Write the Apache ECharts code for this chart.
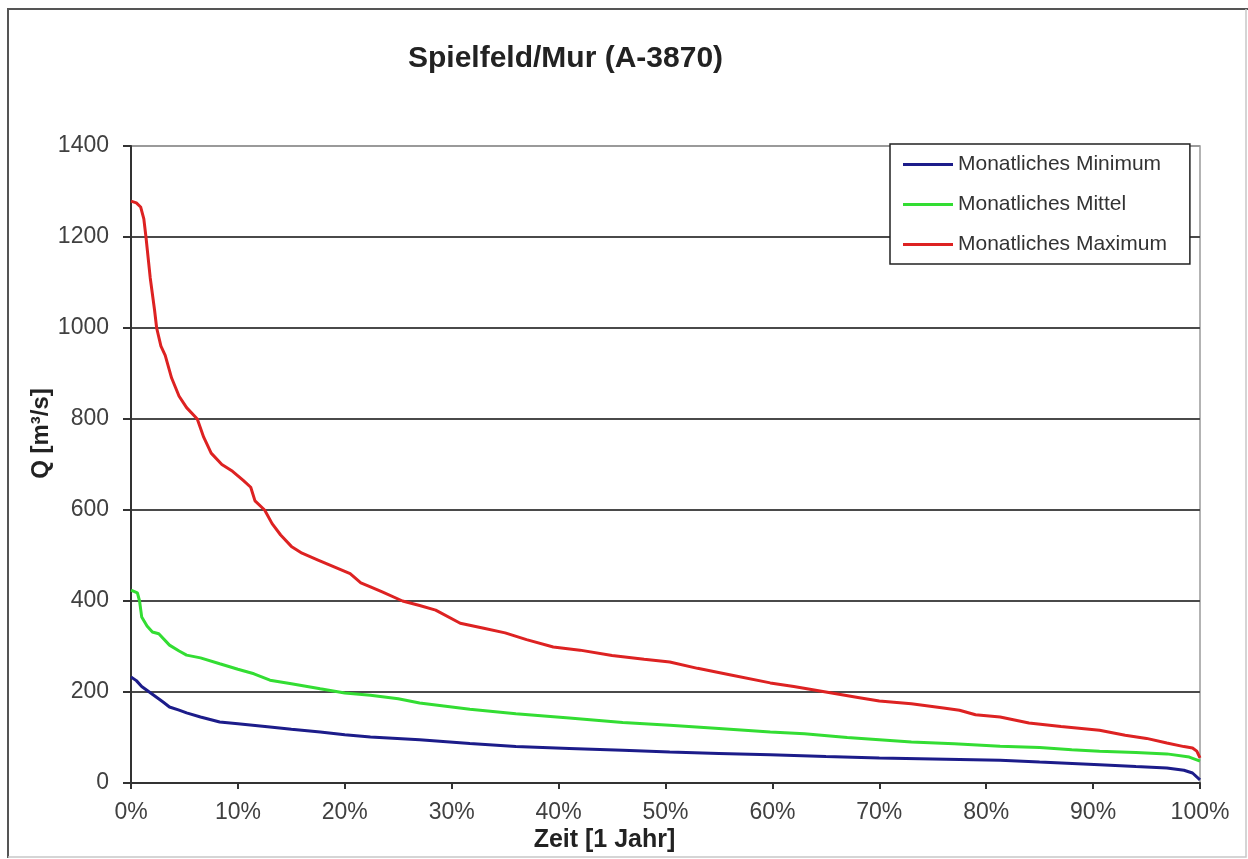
<!DOCTYPE html>
<html>
<head>
<meta charset="utf-8">
<script src="https://cdn.jsdelivr.net/npm/echarts@6/dist/echarts.min.js"></script>
<style>
html,body{margin:0;padding:0;background:#fff;}
#chart{width:1248px;height:859px;}
</style>
</head>
<body>
<div id="chart"></div>
<script>
// ---- data (x = % of year, Q in m³/s) ----
const seriesNames = ['Monatliches Minimum', 'Monatliches Mittel', 'Monatliches Maximum'];
const xTickValues = [0, 10, 20, 30, 40, 50, 60, 70, 80, 90, 100];
const yTickValues = [0, 200, 400, 600, 800, 1000, 1200, 1400];

const minX = [0, 0.5, 1.0, 2.0, 3.0, 3.6, 4.5, 5.2, 6.5, 8.3, 10, 13, 15, 17.7, 20, 22.4, 27, 31.7, 36, 41, 46, 50.4, 55, 59.8, 65, 70, 75, 81.3, 85, 90.6, 94, 96.9, 98.5, 99.3, 100];
const minQ = [233, 225, 212, 195, 178, 167, 160, 154, 145, 134, 130, 123, 118, 112, 106, 101, 95, 87, 80, 76, 72, 68, 65, 62, 58, 55, 53, 50, 46, 40, 36, 33, 28, 22, 7];

const meanX = [0, 0.6, 0.8, 1.0, 1.5, 2.0, 2.6, 3.6, 4.5, 5.2, 6.5, 8.3, 10, 11.5, 13, 15, 17.7, 20, 22.4, 25, 27, 31.7, 36, 41, 46, 50.4, 55, 59.8, 63, 67, 70, 73, 77, 81.3, 85, 88, 90.6, 94, 96.9, 99, 100];
const meanQ = [424, 418, 400, 365, 345, 332, 328, 303, 290, 281, 275, 262, 250, 240, 226, 218, 207, 198, 193, 185, 176, 162, 152, 143, 133, 127, 120, 112, 108, 100, 95, 90, 86, 81, 78, 73, 70, 67, 64, 57, 48];

const maxX = [0, 0.5, 0.9, 1.2, 1.4, 1.8, 2.2, 2.4, 2.8, 3.2, 3.8, 4.5, 5.2, 6.2, 6.8, 7.5, 8.5, 9.5, 10.5, 11.2, 11.6, 12.5, 13.2, 14, 15, 16, 17.5, 19, 20.5, 21.5, 22.4, 23.5, 25.4, 27, 28.5, 30.8, 33, 35, 37, 39.5, 42, 45, 48, 50.4, 53, 56, 59.8, 62, 65, 68, 70, 73, 76, 77.5, 79, 81.3, 84, 87, 90.6, 93, 95, 96.9, 98.5, 99.3, 99.7, 100];
const maxQ = [1279, 1275, 1266, 1240, 1200, 1110, 1040, 1000, 960, 940, 890, 850, 825, 800, 760, 725, 700, 685, 665, 650, 620, 600, 570, 545, 520, 505, 490, 475, 460, 440, 431, 420, 400, 390, 380, 351, 340, 330, 315, 299, 292, 280, 272, 266, 252, 238, 220, 212, 200, 188, 180, 174, 165, 160, 150, 145, 132, 124, 116, 105, 98, 88, 80, 77, 70, 55];

const pairs = (xs, ys) => xs.map((x, i) => [x, ys[i]]);

const FONT = '"Liberation Sans", Arial, sans-serif';
const chart = echarts.init(document.getElementById('chart'), null, {renderer: 'canvas'});

const splitColors = yTickValues.map((v, i) => i === yTickValues.length - 1 ? '#9a9a9a' : '#4a4a4a');

chart.setOption({
  backgroundColor: '#ffffff',
  animation: false,
  textStyle: {fontFamily: FONT},
  title: {
    text: 'Spielfeld/Mur (A-3870)',
    left: 403,
    top: 39,
    textStyle: {fontFamily: FONT, fontSize: 30, fontWeight: 'bold', color: '#222'}
  },
  graphic: [
    {type: 'polyline', shape: {points: [[8, 858], [8, 9], [1252, 9]]}, style: {stroke: '#555', lineWidth: 2, fill: null}, z: 100},
    {type: 'polyline', shape: {points: [[1246, 9], [1246, 857], [8, 857]]}, style: {stroke: '#c8c8c8', lineWidth: 1.5, fill: null}, z: 100}
  ],
  legend: {
    orient: 'vertical',
    left: 890,
    top: 144,
    padding: [10, 23, 9, 13],
    itemWidth: 50,
    itemHeight: 3,
    itemGap: 19,
    icon: 'rect',
    borderColor: '#222',
    borderWidth: 1.5,
    backgroundColor: '#fff',
    textStyle: {fontFamily: FONT, fontSize: 21, color: '#333'},
    data: seriesNames
  },
  grid: {
    left: 131, top: 146, right: 48, bottom: 76,
    outerBoundsMode: 'none',
    show: true, borderColor: '#9a9a9a', borderWidth: 1.5, backgroundColor: '#fff'
  },
  xAxis: {
    type: 'value',
    min: 0, max: 100, interval: 10,
    name: 'Zeit [1 Jahr]',
    nameLocation: 'middle',
    nameGap: 45,
    nameMoveOverlap: false,
    nameTextStyle: {fontFamily: FONT, fontSize: 25, fontWeight: 'bold', color: '#222', padding: [0, 122, 0, 0]},
    axisLine: {show: true, lineStyle: {color: '#333', width: 2}},
    axisTick: {show: true, length: 6, lineStyle: {color: '#333', width: 2}},
    axisLabel: {formatter: '{value}%', fontFamily: FONT, fontSize: 23, color: '#404040', margin: 18},
    splitLine: {show: false}
  },
  yAxis: {
    type: 'value',
    min: 0, max: 1400, interval: 200,
    name: 'Q [m³/s]',
    nameLocation: 'middle',
    nameGap: 78,
    nameMoveOverlap: false,
    nameRotate: 90,
    nameTextStyle: {fontFamily: FONT, fontSize: 24, fontWeight: 'bold', color: '#222', padding: [0, 0, 0, 62]},
    axisLine: {show: true, lineStyle: {color: '#333', width: 2}},
    axisTick: {show: true, length: 8, lineStyle: {color: '#333', width: 2}},
    axisLabel: {formatter: v => String(v), fontFamily: FONT, fontSize: 23, color: '#404040', margin: 22},
    splitLine: {show: true, lineStyle: {color: splitColors, width: 2}}
  },
  series: [
    {name: seriesNames[0], type: 'line', data: pairs(minX, minQ), showSymbol: false, symbol: 'none',
     lineStyle: {width: 3, color: '#1c1c8a'}, itemStyle: {color: '#1c1c8a'}, z: 3},
    {name: seriesNames[1], type: 'line', data: pairs(meanX, meanQ), showSymbol: false, symbol: 'none',
     lineStyle: {width: 3, color: '#33dd33'}, itemStyle: {color: '#33dd33'}, z: 4},
    {name: seriesNames[2], type: 'line', data: pairs(maxX, maxQ), showSymbol: false, symbol: 'none',
     lineStyle: {width: 3, color: '#dd2222'}, itemStyle: {color: '#dd2222'}, z: 5}
  ]
});
</script>
</body>
</html>
